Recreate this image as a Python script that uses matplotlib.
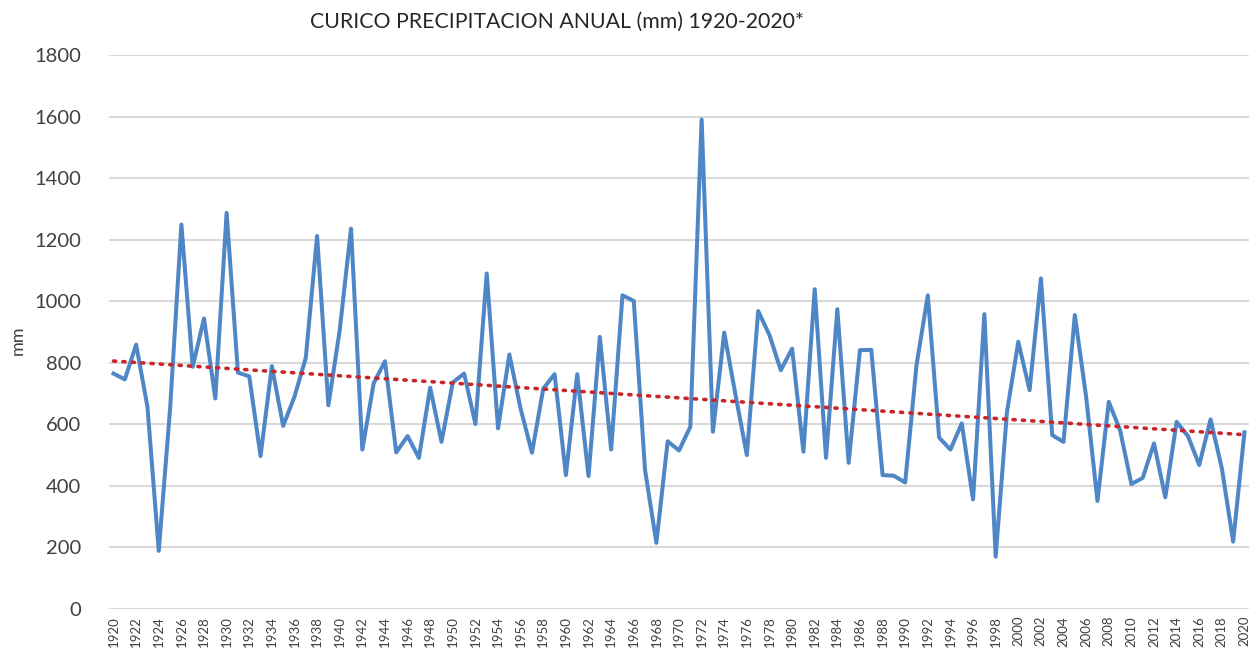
import matplotlib
matplotlib.use("Agg")
import matplotlib.pyplot as plt
import numpy as np

plt.rcParams['font.family'] = ['Lato', 'DejaVu Sans']

years = np.arange(1920, 2021)
precip = [
    765, 746, 859, 657, 189, 650, 1249, 787, 944, 684,
    1287, 768, 756, 497, 789, 595, 690, 816, 1212, 662,
    906, 1236, 518, 733, 805, 509, 562, 491, 719, 543,
    736, 765, 601, 1090, 587, 827, 650, 508, 716, 763,
    435, 763, 432, 884, 518, 1019, 1001, 451, 215, 545,
    515, 592, 1590, 576, 898, 695, 500, 968, 890, 776,
    846, 511, 1039, 491, 974, 475, 841, 842, 435, 433,
    411, 792, 1019, 557, 518, 603, 356, 958, 170, 640,
    868, 711, 1074, 565, 543, 955, 689, 351, 673, 581,
    406, 426, 538, 363, 608, 562, 468, 616, 457, 219,
    574,
]
precip = np.array(precip)
tick_years = years[::2]
y_ticks = np.arange(0, 1801, 200)

# tendencia lineal
coef = np.polyfit(years, precip, 1)
trend = np.polyval(coef, years)

fig = plt.figure(figsize=(12.49, 6.56), dpi=100)
ax = fig.add_axes([109 / 1249, 47 / 656, 1 - 109 / 1249, (609 - 55) / 656])

ax.plot(years, precip, color='#4f87c6', linewidth=2.9, solid_joinstyle='round', zorder=3)
ax.plot(years, trend, color='#c9262a', linewidth=2.6, linestyle=(0, (0.6, 2.0)),
        dash_capstyle='round', zorder=4)

ax.set_xlim(1919.6, 2020.4)
ax.set_ylim(0, 1800)
ax.set_yticks(y_ticks)
ax.set_yticklabels([str(v) for v in y_ticks], fontsize=14.5, color='#404040')
ax.set_xticks(tick_years)
ax.set_xticklabels([str(y) for y in tick_years], rotation=90, fontsize=9.5, color='#404040')
ax.tick_params(axis='y', length=0, pad=20)
ax.tick_params(axis='x', length=0, pad=5)
ax.grid(axis='y', color='#d9d9d9', linewidth=1.5)
ax.set_axisbelow(True)
for s in ax.spines.values():
    s.set_visible(False)

fig.text(18 / 1249, 1 - 340 / 656, 'mm', rotation=90, fontsize=13, color='#404040',
         ha='center', va='center')
fig.text(557 / 1249, 1 - 22 / 656, 'CURICO PRECIPITACION ANUAL (mm) 1920-2020*',
         fontsize=15.3, color='#262626', ha='center', va='center')

fig.savefig('out.png', dpi=100)
